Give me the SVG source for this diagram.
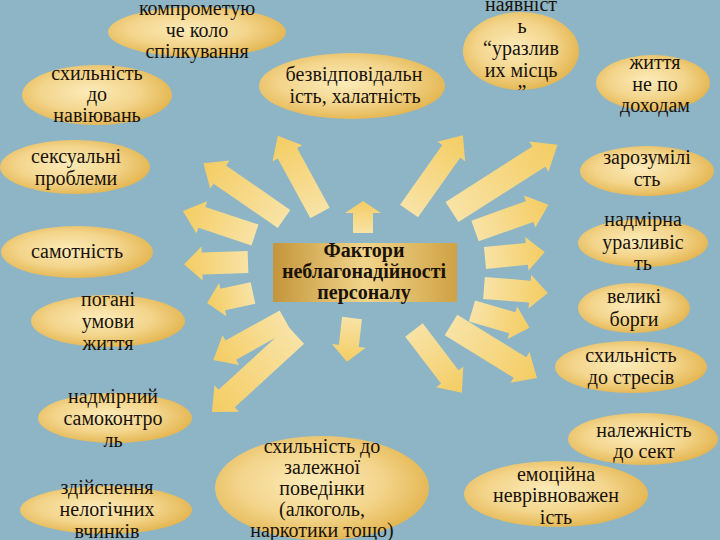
<svg xmlns="http://www.w3.org/2000/svg" width="720" height="540" viewBox="0 0 720 540">
<defs>
<radialGradient id="eg" cx="45%" cy="45%" r="60%">
<stop offset="0" stop-color="#fcebb9"/>
<stop offset="0.55" stop-color="#f3d58c"/>
<stop offset="1" stop-color="#e2b24a"/>
</radialGradient>
<linearGradient id="ag" x1="0" y1="0" x2="1" y2="0">
<stop offset="0" stop-color="#f8e3a6"/>
<stop offset="1" stop-color="#f4cc62"/>
</linearGradient>
<linearGradient id="bg" x1="0" y1="0" x2="1" y2="0">
<stop offset="0" stop-color="#c4953a"/>
<stop offset="0.5" stop-color="#f1d58b"/>
<stop offset="1" stop-color="#cfa244"/>
</linearGradient>
<style>
.el{fill:url(#eg)}
.arr{fill:url(#ag)}
text{font-family:"Liberation Serif","Times New Roman",serif;font-size:20px;fill:#1a1208;text-anchor:middle}
.t{font-weight:bold}
</style>
</defs>
<rect width="720" height="540" fill="#8db5c6"/>

<g id="n-komp"><ellipse class="el" cx="197" cy="32" rx="89" ry="25"/>
<text x="197" y="15">компрометую</text><text x="197" y="37">че коло</text><text x="197" y="58">спілкування</text></g>

<g id="n-naviyuvan"><ellipse class="el" cx="97" cy="95" rx="75" ry="30"/>
<text x="97" y="80">схильність</text><text x="97" y="101">до</text><text x="97" y="122">навіювань</text></g>

<g id="n-seks"><ellipse class="el" cx="75" cy="167" rx="75" ry="27"/>
<text x="76" y="163">сексуальні</text><text x="76" y="185">проблеми</text></g>

<g id="n-bezv"><ellipse class="el" cx="352" cy="86" rx="93" ry="33"/>
<text x="354" y="81">безвідповідальн</text><text x="355" y="103">ість, халатність</text></g>

<g id="n-nayav"><ellipse class="el" cx="521" cy="51" rx="58" ry="39"/>
<text x="521" y="11">наявніст</text><text x="522" y="33">ь</text><text x="521" y="55">“уразлив</text><text x="521" y="77">их  місць</text><text x="522" y="99">”</text></g>

<g id="n-zhyttya"><ellipse class="el" cx="653" cy="83" rx="57" ry="28"/>
<text x="655" y="69">життя</text><text x="655" y="91">не по</text><text x="655" y="112">доходам</text></g>

<g id="n-zaroz"><ellipse class="el" cx="647" cy="171" rx="67" ry="25"/>
<text x="647" y="164">зарозумілі</text><text x="647" y="186">сть</text></g>

<g id="n-urazl"><ellipse class="el" cx="643" cy="243" rx="65" ry="24"/>
<text x="643" y="226">надмірна</text><text x="643" y="249">уразливіс</text><text x="643" y="270">ть</text></g>

<g id="n-borgy"><ellipse class="el" cx="634" cy="308" rx="56" ry="25"/>
<text x="634" y="303">великі</text><text x="634" y="326">борги</text></g>

<g id="n-stres"><ellipse class="el" cx="631" cy="367" rx="76" ry="26"/>
<text x="631" y="362">схильність</text><text x="631" y="384">до стресів</text></g>

<g id="n-sekt"><ellipse class="el" cx="643" cy="439" rx="75" ry="26"/>
<text x="644" y="437">належність</text><text x="644" y="458">до сект</text></g>

<g id="n-emots"><ellipse class="el" cx="556" cy="494" rx="92" ry="33"/>
<text x="556" y="481">емоційна</text><text x="556" y="502">неврівноважен</text><text x="556" y="524">ість</text></g>

<g id="n-zalezh"><ellipse class="el" cx="322" cy="488" rx="107" ry="52"/>
<text x="322" y="453">схильність до</text><text x="322" y="474">залежної</text><text x="322" y="495">поведінки</text><text x="322" y="516">(алкоголь,</text><text x="322" y="537">наркотики тощо)</text></g>

<g id="n-samot"><ellipse class="el" cx="77" cy="252" rx="76" ry="26"/>
<text x="77" y="258">самотність</text></g>

<g id="n-pogani"><ellipse class="el" cx="108" cy="321" rx="77" ry="26"/>
<text x="108" y="306">погані</text><text x="108" y="328">умови</text><text x="108" y="350">життя</text></g>

<g id="n-samokontrol"><ellipse class="el" cx="115" cy="418" rx="77" ry="25"/>
<text x="113" y="403">надмірний</text><text x="113" y="425">самоконтро</text><text x="113" y="447">ль</text></g>

<g id="n-vchynky"><ellipse class="el" cx="106" cy="510" rx="86" ry="24"/>
<text x="107" y="494">здійснення</text><text x="107" y="516">нелогічних</text><text x="107" y="538">вчинків</text></g>

<g id="connectors">
<path class="arr" transform="translate(320,213) rotate(-118.6)" d="M0,-11H68V-17L88,0L68,17V11H0Z"/>
<path class="arr" transform="translate(284,219) rotate(-145.3)" d="M0,-11H78V-17L98,0L78,17V11H0Z"/>
<path class="arr" transform="translate(255,235) rotate(-161.6)" d="M0,-11H56V-17L76,0L56,17V11H0Z"/>
<path class="arr" transform="translate(248,262) rotate(178)" d="M0,-11H46V-17L64,0L46,17V11H0Z"/>
<path class="arr" transform="translate(253,293) rotate(167.7)" d="M0,-11H31V-17L47,0L31,17V11H0Z"/>
<path class="arr" transform="translate(285,320) rotate(150.9)" d="M0,-11H62V-17L82,0L62,17V11H0Z"/>
<path class="arr" transform="translate(296,335) rotate(137.5)" d="M0,-12H94V-18L114,0L94,18V12H0Z"/>
<path class="arr" transform="translate(352,318) rotate(96.5)" d="M0,-10H28V-17L44,0L28,17V10H0Z"/>
<path class="arr" transform="translate(414,330) rotate(52.7)" d="M0,-11H59V-17L79,0L59,17V11H0Z"/>
<path class="arr" transform="translate(451,325) rotate(31.6)" d="M0,-12H81V-18L101,0L81,18V12H0Z"/>
<path class="arr" transform="translate(472,311) rotate(16.3)" d="M0,-11H42V-17L60,0L42,17V11H0Z"/>
<path class="arr" transform="translate(484,288) rotate(4.5)" d="M0,-11H46V-17L64,0L46,17V11H0Z"/>
<path class="arr" transform="translate(485,258) rotate(-5.7)" d="M0,-11H42V-17L60,0L42,17V11H0Z"/>
<path class="arr" transform="translate(475,231) rotate(-19.6)" d="M0,-11H58V-17L78,0L58,17V11H0Z"/>
<path class="arr" transform="translate(452,212) rotate(-32.5)" d="M0,-12H103V-18L125,0L103,18V12H0Z"/>
<path class="arr" transform="translate(409,211) rotate(-54.6)" d="M0,-11H73V-17L93,0L73,17V11H0Z"/>
<path class="arr" transform="translate(363,233) rotate(-90)" d="M0,-10H20V-18L32,0L20,18V10H0Z"/>
</g>

<g id="n-center"><rect x="273" y="243" width="184" height="59" fill="url(#bg)"/>
<text class="t" x="364" y="257">Фактори</text><text class="t" x="364" y="278">неблагонадійності</text><text class="t" x="364" y="299">персоналу</text></g>
</svg>
